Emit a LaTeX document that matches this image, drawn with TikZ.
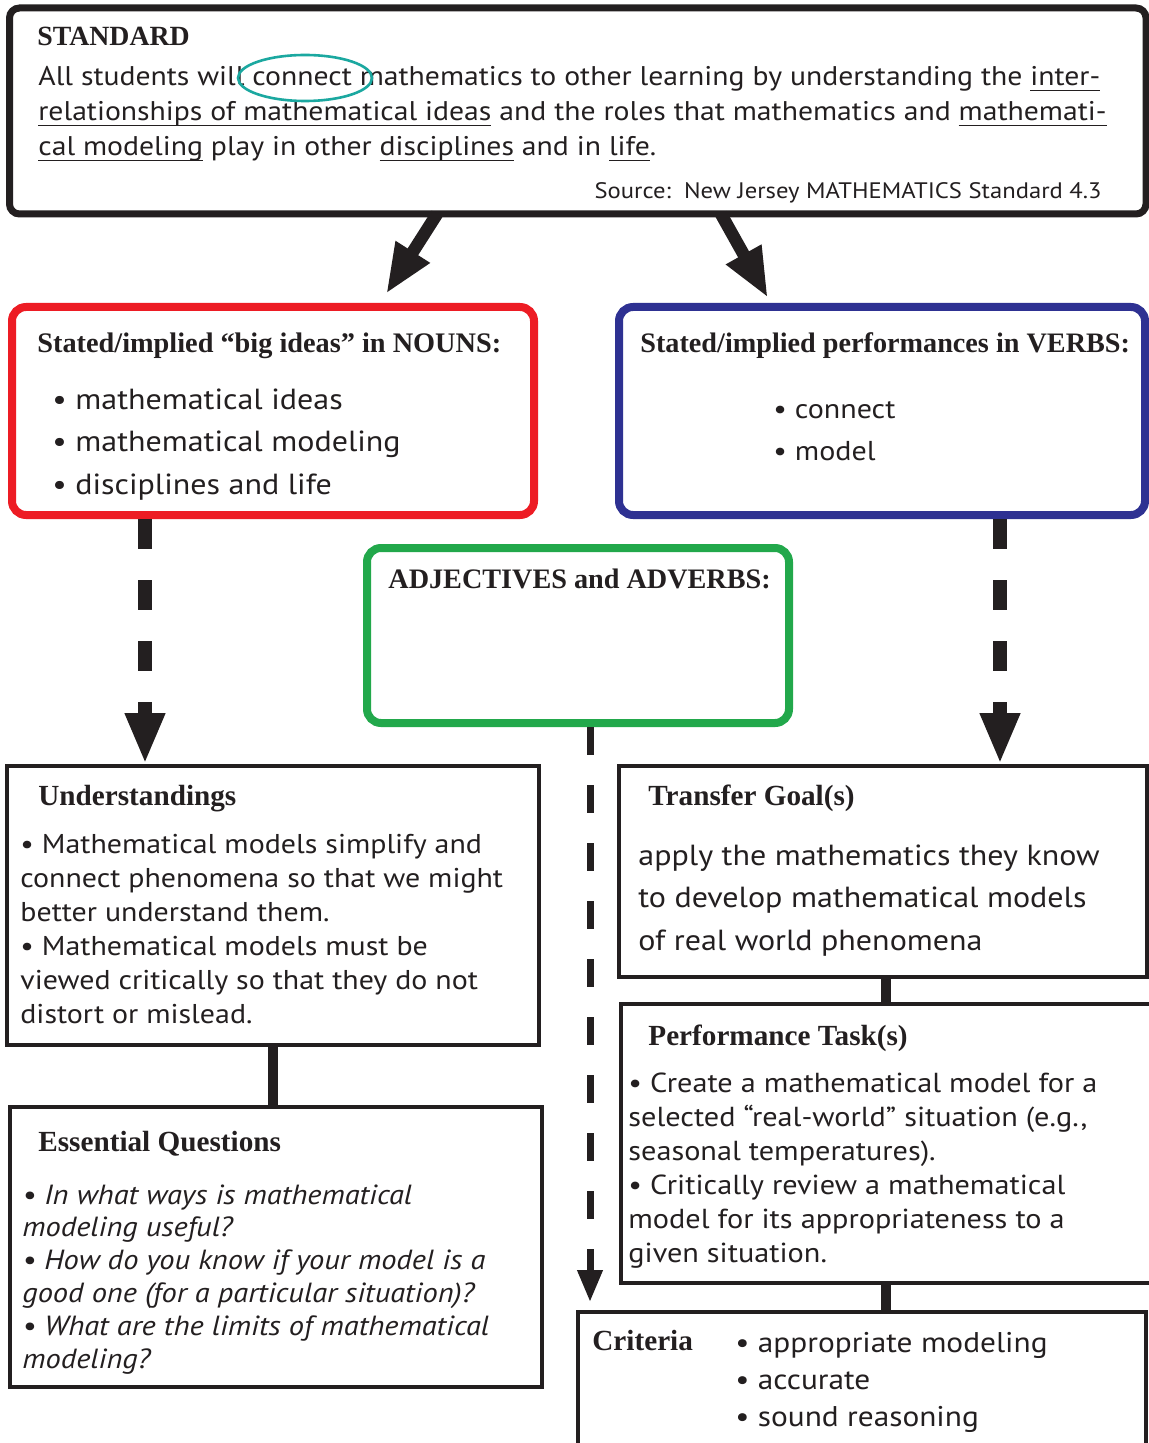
\documentclass[tikz,border=0pt]{standalone}
\usepackage{fontspec}
\setmainfont{Liberation Serif}
\newfontfamily\bodyfont[FakeStretch=1.1]{PT Sans}
\usetikzlibrary{arrows.meta,calc,shapes.geometric}
\definecolor{ink}{HTML}{231F20}
\definecolor{nounred}{HTML}{ED1C24}
\definecolor{verbblue}{HTML}{2E3192}
\definecolor{adjgreen}{HTML}{22A84B}
\definecolor{ringteal}{HTML}{1BA8A0}
% underline drawn at a fixed depth below the baseline
\newsavebox{\undlbox}
\newcommand{\undl}[1]{\sbox{\undlbox}{#1}\rlap{\rule[-2.6pt]{\wd\undlbox}{0.8pt}}\usebox{\undlbox}}
\begin{document}
\begin{tikzpicture}[x=0.5pt,y=-0.5pt,
  panel/.style={draw=ink,line width=2pt,rectangle,inner sep=0pt,outer sep=0pt,anchor=north west},
  headline/.style={font=\bfseries\fontsize{#1pt}{16pt}\selectfont,text=ink,inner sep=0pt,anchor=base west},
  headline/.default=14.6,
  body/.style 2 args={font=\bodyfont\fontsize{#1pt}{#2pt}\selectfont,text=ink,inner sep=0pt,anchor=base west,align=left},
  bodyit/.style 2 args={font=\bodyfont\itshape\fontsize{#1pt}{#2pt}\selectfont,text=ink,inner sep=0pt,anchor=base west,align=left},
  bigarrow/.style={draw=ink,line width=6.25pt,-{Triangle[length=25pt,width=18.5pt]}},
  fatdash/.style={draw=ink,line width=7pt,dash pattern=on 15pt off 15.5pt,-{Triangle[length=25.5pt,width=18.5pt]}},
  thindash/.style={draw=ink,line width=3.5pt,dash pattern=on 14pt off 15pt,-{Triangle[length=16pt,width=12pt]}},
  link/.style={draw=ink,line width=5pt}]
\useasboundingbox (0,0) rectangle (1149,1443);
\clip (0,0) rectangle (1149,1443);
\fill[white] (0,0) rectangle (1149,1443);

% frames (positions are the top-left corners of the stroke centre lines)
\node[panel,line width=3.5pt,rounded corners=5pt,minimum width=568.25pt,minimum height=103pt] (std) at (9.5,8) {};
\node[panel,draw=nounred,line width=4pt,rounded corners=7pt,minimum width=261pt,minimum height=104pt] (nouns) at (12,307) {};
\node[panel,draw=verbblue,line width=4pt,rounded corners=7pt,minimum width=263pt,minimum height=104pt] (verbs) at (619,307) {};
\node[panel,draw=adjgreen,line width=4pt,rounded corners=7pt,minimum width=211pt,minimum height=87.5pt] (adj) at (367,548) {};
\node[panel,minimum width=266pt,minimum height=139.5pt] (und) at (7,766) {};
\node[panel,minimum width=266pt,minimum height=140pt] (eq) at (10,1107) {};
\node[panel,minimum width=264pt,minimum height=105.5pt] (tg) at (619,766) {};
\node[panel,minimum width=280pt,minimum height=139.5pt] (pt) at (621,1004) {};
\node[panel,minimum width=284pt,minimum height=80pt] (crit) at (578,1312) {};

% standard text (a multi-line node is placed by its last baseline)
\node[headline=13.9] (std-h) at (37,46) {STANDARD};
\node[body={13.5}{17.5}] (std-t) at (38,156) {All students will connect mathematics to other learning by understanding the \undl{inter-}\\\undl{relationships of mathematical ideas} and the roles that mathematics and \undl{mathemati-}\\\undl{cal modeling} play in other \undl{disciplines} and in \undl{life}.};
\node[draw=ringteal,line width=1.3pt,ellipse,inner sep=0pt,minimum width=67pt,minimum height=23pt] (ring) at (305,78) {};
\node[body={11.2}{14},anchor=base east] (src) at (1102,199) {Source:\ \ New Jersey MATHEMATICS Standard 4.3};

% nouns and verbs
\node[headline=14.15] (nouns-h) at (37,353) {Stated/implied “big ideas” in NOUNS:};
\node[body={14.55}{21.25}] (nouns-l) at (52,494) {\textbullet\ mathematical ideas\\\textbullet\ mathematical modeling\\\textbullet\ disciplines and life};
\node[headline=14.1] (verbs-h) at (640,353) {Stated/implied performances in VERBS:};
\node[body={13.65}{21}] (verbs-l) at (773,460) {\textbullet\ connect\\\textbullet\ model};
\node[headline=14.1] (adj-h) at (388,588) {ADJECTIVES and ADVERBS:};

% left column
\node[headline] (und-h) at (38,805) {Understandings};
\node[body={13.6}{17}] (und-l) at (20,1023) {\textbullet\ Mathematical models simplify and\\connect phenomena so that we might\\better understand them.\\\textbullet\ Mathematical models must be\\viewed critically so that they do not\\distort or mislead.};
\node[headline] (eq-h) at (38,1151) {Essential Questions};
\node[bodyit={13.85}{16.4}] (eq-l) at (22,1368) {\textbullet\ In what ways is mathematical\\modeling useful?\\\textbullet\ How do you know if your model is a\\good one (for a particular situation)?\\\textbullet\ What are the limits of mathematical\\modeling?};

% right column
\node[headline] (tg-h) at (648,805) {Transfer Goal(s)};
\node[body={14.55}{21.25}] (tg-l) at (638,950) {apply the mathematics they know\\to develop mathematical models\\of real world phenomena};
\node[headline] (pt-h) at (648,1045) {Performance Task(s)};
\node[body={13.75}{17}] (pt-l) at (628,1262) {\textbullet\ Create a mathematical model for a\\selected “real-world” situation (e.g.,\\seasonal temperatures).\\\textbullet\ Critically review a mathematical\\model for its appropriateness to a\\given situation.};
\node[headline] (crit-h) at (592,1350) {Criteria};
\node[body={14.25}{18.5}] (crit-l) at (735,1426) {\textbullet\ appropriate modeling\\\textbullet\ accurate\\\textbullet\ sound reasoning};

% connectors
\coordinate (lcol) at (145,0);
\coordinate (rcol) at (1000,0);
\coordinate (mcol) at (590,0);
\coordinate (tcol) at (886,0);
\draw[bigarrow] ($(std.south west)+(427.5,0)$) -- ($(nouns.north west)+(374,-13)$);
\draw[bigarrow] ($(std.south west)+(711.5,0)$) -- ($(verbs.north west)+(149,-9)$);
\draw[fatdash] ($(nouns.south -| lcol)+(0,4)$) -- ($(und.north -| lcol)+(0,-2)$);
\draw[fatdash] ($(verbs.south -| rcol)+(0,4)$) -- ($(tg.north -| rcol)+(0,-2)$);
\draw[thindash] ($(adj.south -| mcol)+(0,4)$) -- ($(crit.north -| mcol)+(0,-10)$);
\draw[link] (und.south) -- (und.south |- eq.north);
\draw[link] (tg.south -| tcol) -- (pt.north -| tcol);
\draw[link] (pt.south -| tcol) -- (crit.north -| tcol);
\end{tikzpicture}
\end{document}
